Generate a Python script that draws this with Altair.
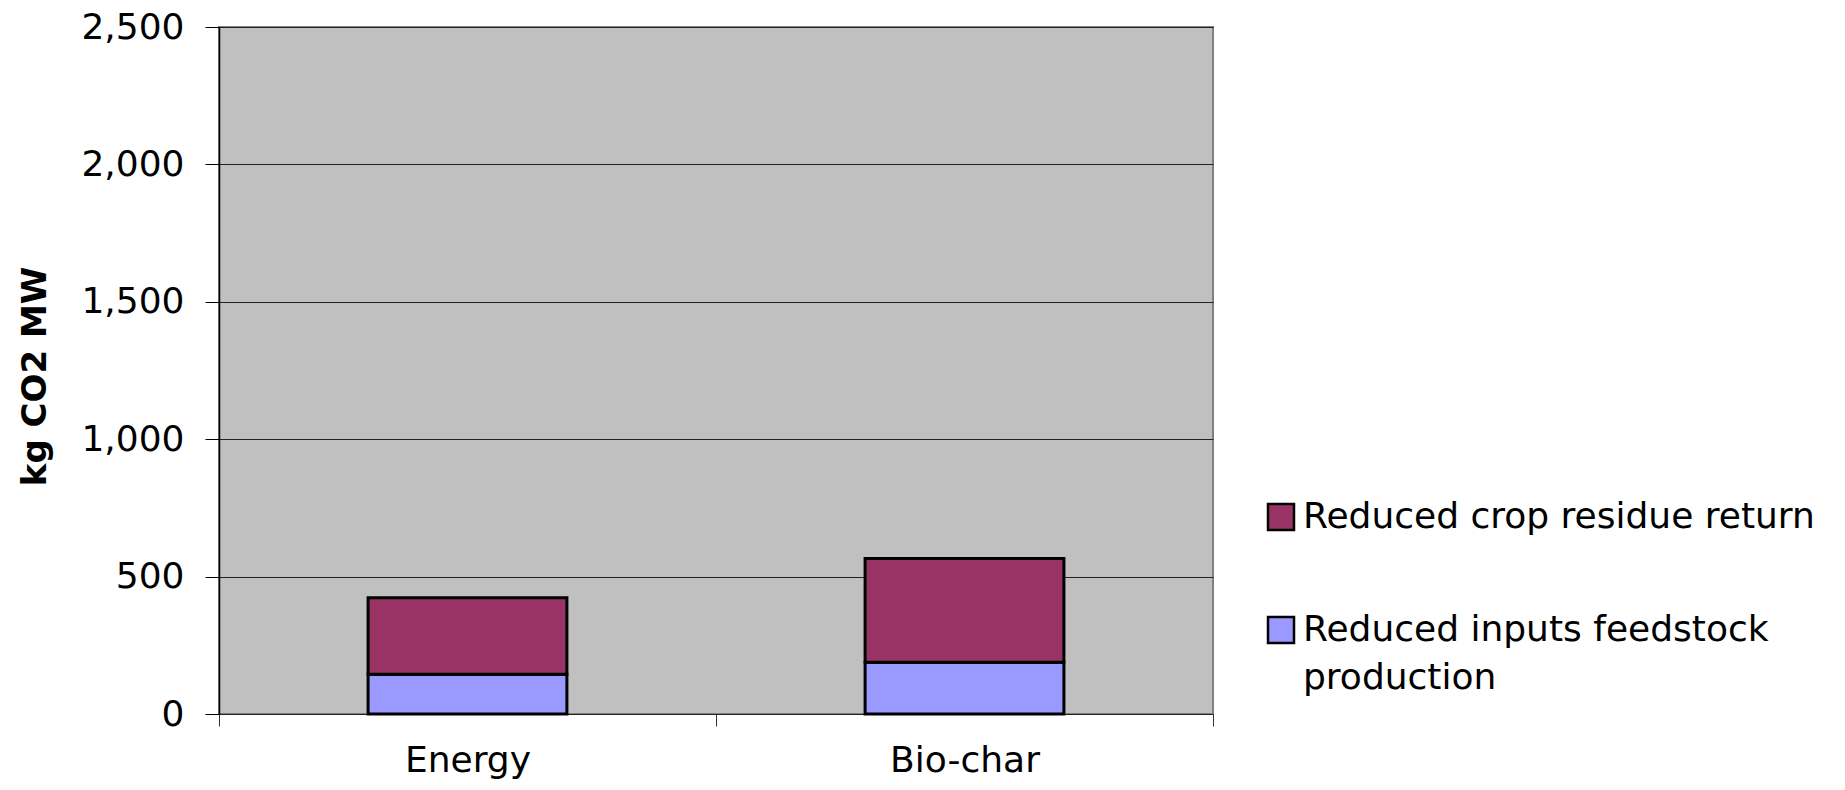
import altair as alt
import pandas as pd

categories = ["Energy", "Bio-char"]
series_names = ["Reduced crop residue return", "Reduced inputs feedstock production"]
residue_values = [278, 378]
inputs_values = [145, 188]
series_colors = ["#993366", "#9999FF"]
y_ticks = [0, 500, 1000, 1500, 2000, 2500]

rows = []
for i, cat in enumerate(categories):
    rows.append({"category": cat, "series": series_names[1], "value": inputs_values[i], "ord": 0})
    rows.append({"category": cat, "series": series_names[0], "value": residue_values[i], "ord": 1})
df = pd.DataFrame(rows)

FONT = "DejaVu Sans"

chart = alt.Chart(df).mark_bar(
    stroke="black", strokeWidth=3, width=alt.RelativeBandSize(0.4)
).encode(
    x=alt.X("category:N", sort=categories,
            scale=alt.Scale(paddingInner=0, paddingOuter=0),
            axis=alt.Axis(title=None, labelAngle=0, domain=False, tickBand="extent",
                          tickSize=12, tickColor="#333333", tickWidth=1,
                          labelFont=FONT, labelFontSize=36, labelColor="black",
                          labelPadding=17)),
    y=alt.Y("value:Q", stack="zero",
            scale=alt.Scale(domain=[0, 2500], nice=False),
            axis=alt.Axis(title="kg CO2 MW", values=y_ticks, format=",d",
                          grid=True, gridColor="#222222", gridWidth=1,
                          domain=True, domainColor="black", domainWidth=1.5,
                          tickSize=14, tickColor="black", tickWidth=1,
                          labelFont=FONT, labelFontSize=36, labelColor="black",
                          labelPadding=21,
                          titleFont=FONT, titleFontSize=34, titleFontWeight="bold",
                          titleColor="black", titleX=-174, titleY=349,
                          titleBaseline="alphabetic", titleAngle=270)),
    color=alt.Color("series:N",
                    scale=alt.Scale(domain=series_names, range=series_colors),
                    legend=alt.Legend(title=None, orient="none", legendX=1044, legendY=472,
                                      symbolType="square", symbolSize=676,
                                      symbolStrokeColor="black", symbolStrokeWidth=2.5,
                                      symbolOpacity=1,
                                      labelFont=FONT, labelFontSize=36, labelColor="black",
                                      labelLimit=800, labelOffset=4, rowPadding=77,
                                      labelExpr="datum.label == 'Reduced inputs feedstock production' ? ['Reduced inputs feedstock', 'production'] : datum.label")),
    order=alt.Order("ord:Q"),
).properties(
    width=994,
    height=687,
    autosize=alt.AutoSizeParams(type="none"),
    padding={"left": 211, "top": 19, "right": 615, "bottom": 68},
).configure(
    style={"guide-label": {"lineHeight": 48}}
).configure_view(
    fill="#C0C0C0", stroke="#808080", strokeWidth=2
)

chart.save("out.html", embed_options={"renderer": "svg", "actions": False})
